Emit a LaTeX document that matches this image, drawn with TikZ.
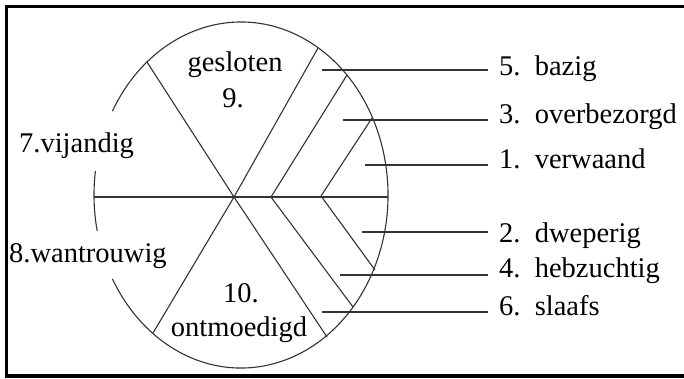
\documentclass[tikz,border=0pt]{standalone}
\usepackage{fontspec}
\setmainfont{Liberation Serif}
\usetikzlibrary{positioning, calc}

\begin{document}
\begin{tikzpicture}[x=1pt, y=-1pt,
  every node/.style={font=\fontsize{28.5}{30}\selectfont, inner sep=0pt},
  wheel/.style={line width=1.1pt, black!80},
  lbl/.style={anchor=base west, inner xsep=11pt},
  frame/.style={line width=3.5pt}]
\useasboundingbox (0,0) rectangle (684,378);
% frame
\draw[frame] (684,6.5) -- (6.5,6.5) -- (6.5,376.2) -- (684,376.2);
% wheel
\coordinate (c) at (241,195);
\coordinate (m) at (234,197);
\draw[wheel] (c) ++(-151:147 and 173) arc[start angle=-151, end angle=151, x radius=147, y radius=173];
\draw[wheel] (c) ++(168:147 and 173) arc[start angle=168, end angle=188, x radius=147, y radius=173];
\coordinate (w) at (94,197);
\coordinate (e) at (388,197);
\draw[wheel] (w) -- (e);
\draw[wheel] (147,62) -- (m) -- (327,337);
\draw[wheel] (318,48) -- (m) -- (153,333);
% chevrons
\coordinate (v2) at (271,197);
\coordinate (v3) at (321,196);
\draw[wheel] (347,75) -- (v2) -- (353,307);
\draw[wheel] (372,118) -- (v3) -- (375,270);
% labels inside
\node[anchor=base] (geslo) at (235,71) {gesloten};
\node[anchor=base] (n9) at (233,107) {9.};
\node[anchor=base] (n10) at (241,302) {10.};
\node[anchor=base] (ontm) at (239,336) {ontmoedigd};
\node[anchor=base west] (vij) at (19,152) {7.vijandig};
\node[anchor=base west] (wan) at (9,262) {8.wantrouwig};
% labels right
\node[lbl] (l5) at (488,75) {5.\ \ bazig};
\node[lbl] (l3) at (488,123) {3.\ \ overbezorgd};
\node[lbl] (l1) at (488,168) {1.\ \ verwaand};
\node[lbl] (l2) at (488,242) {2.\ \ dweperig};
\node[lbl] (l4) at (488,277) {4.\ \ hebzuchtig};
\node[lbl] (l6) at (488,315) {6.\ \ slaafs};
\coordinate (s5) at (322,70);
\coordinate (s3) at (343,120);
\coordinate (s1) at (365,165);
\coordinate (s2) at (362,232);
\coordinate (s4) at (340,275);
\coordinate (s6) at (322,312);
\foreach \i in {5,3,1,2,4,6}
  \draw[wheel] (s\i) -- (s\i -| l\i.west);
\end{tikzpicture}
\end{document}
